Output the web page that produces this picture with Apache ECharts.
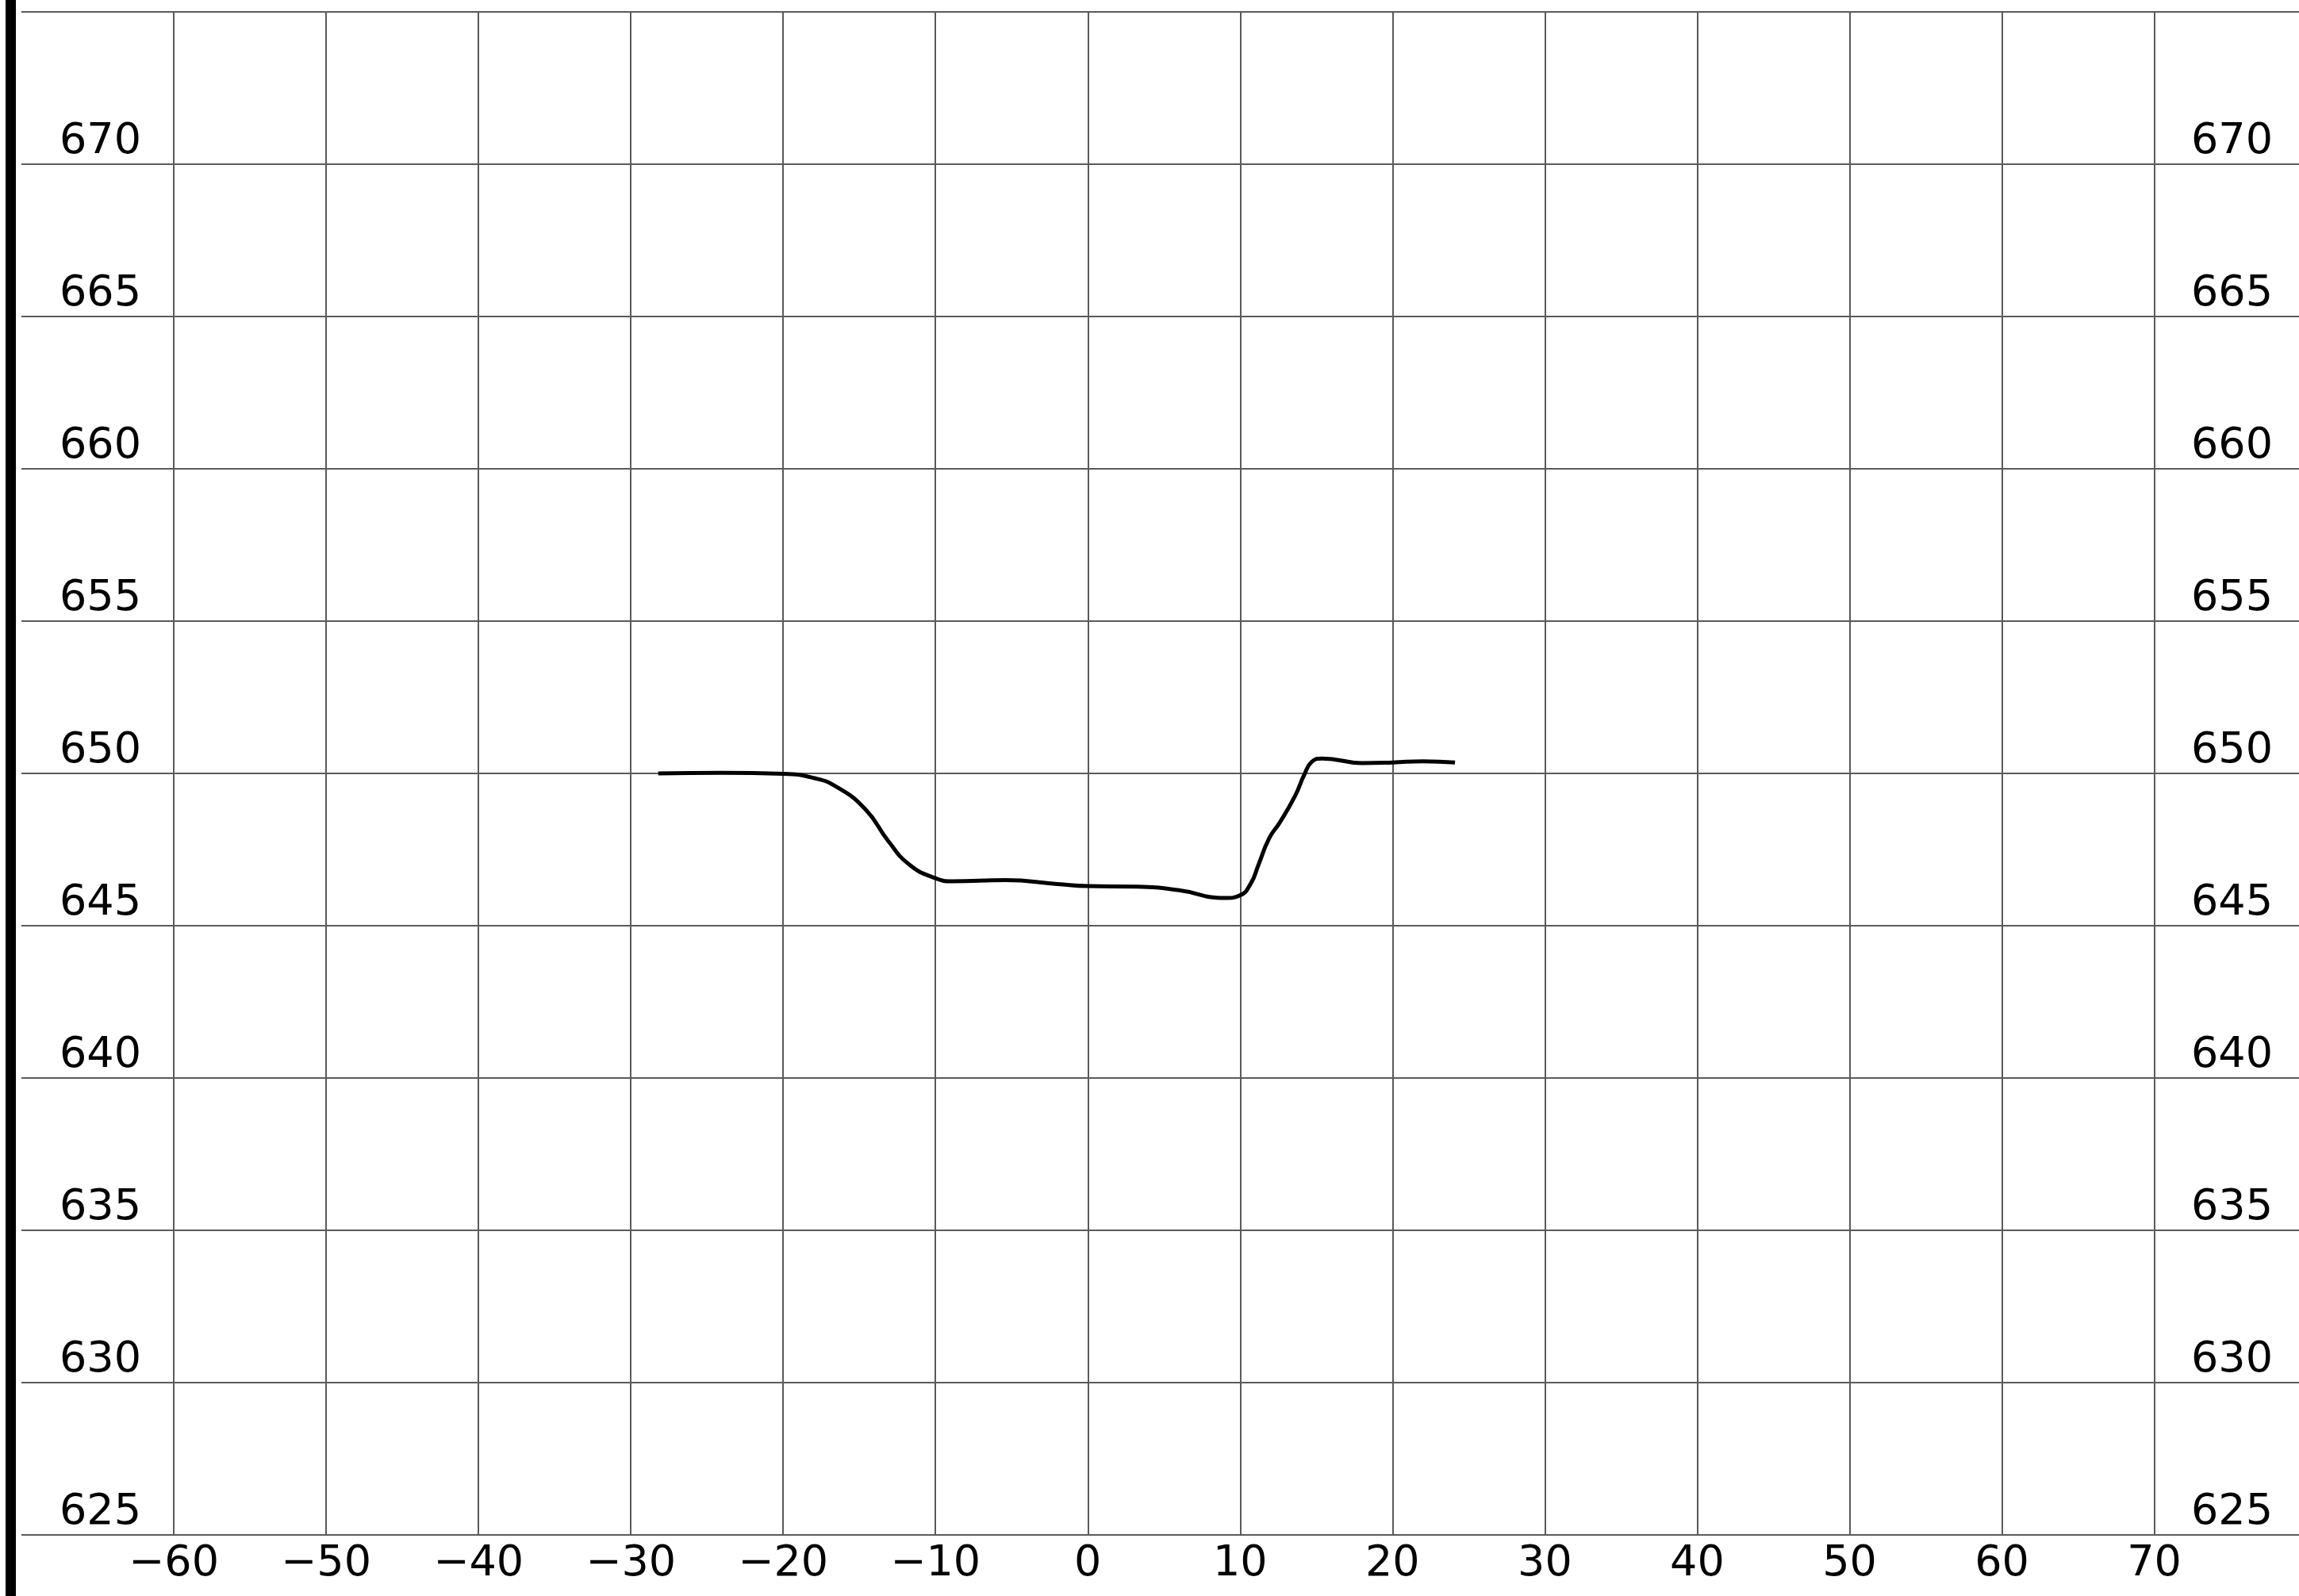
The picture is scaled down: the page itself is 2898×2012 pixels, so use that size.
<!DOCTYPE html>
<html>
<head>
<meta charset="utf-8">
<title>Profile</title>
<script src="https://cdn.jsdelivr.net/npm/echarts@6/dist/echarts.min.js"></script>
<style>
	html, body { margin: 0; padding: 0; background: #fff; }
	#chart { width: 2898px; height: 2012px; }
</style>
</head>
<body>
<div id="chart"></div>
<script>
// profile
var stations = [-28.2, -24, -20, -18, -16.5, -14.6, -13.1, -11.7, -10, -8.9, -5.4, -2, 0, 3.2, 5.9, 9, 10, 10.7, 11.2, 11.9, 12.6, 13.6, 14.2, 14.7, 15.4, 18, 20, 22, 24.1];
var levels = [650.0, 650.02, 649.99, 649.85, 649.56, 648.82, 647.78, 647.0, 646.56, 646.46, 646.5, 646.37, 646.3, 646.28, 646.17, 645.91, 646.0, 646.39, 647.0, 647.87, 648.39, 649.26, 649.95, 650.38, 650.49, 650.34, 650.36, 650.4, 650.36];

var xRange = [-70, 79.5];
var yRange = [625, 675];

var ele = document.getElementById('chart');
var myChart = echarts.init(ele);

var points = [];
for (var i = 0; i < stations.length; i++) {
	points.push([stations[i], levels[i]]);
}

var gridLine = { show: true, lineStyle: { color: '#5a5a5a', width: 2 } };
var labelFont = 'DejaVu Sans';

function minus(v) {
	return String(v).replace('-', '\u2212');
}

var option = {
	backgroundColor: '#fff',
	animation: false,
	grid: { left: 27, right: 0, top: 15, bottom: 77, containLabel: false },
	xAxis: {
		type: 'value',
		min: xRange[0],
		max: xRange[1],
		interval: 10,
		axisLine: { show: false },
		axisTick: { show: false },
		splitLine: { show: true, showMinLine: false, showMaxLine: false, lineStyle: gridLine.lineStyle },
		axisLabel: {
			showMinLabel: false,
			showMaxLabel: false,
			margin: 10,
			color: '#000',
			fontFamily: labelFont,
			fontSize: 54,
			lineHeight: 54,
			formatter: minus
		}
	},
	yAxis: [{
		type: 'value',
		position: 'left',
		min: yRange[0],
		max: yRange[1],
		interval: 5,
		axisLine: { show: false },
		axisTick: { show: false },
		splitLine: gridLine,
		axisLabel: {
			inside: true,
			showMaxLabel: false,
			margin: 48,
			verticalAlign: 'bottom',
			lineHeight: 56,
			color: '#000',
			fontFamily: labelFont,
			fontSize: 54
		}
	}, {
		type: 'value',
		position: 'right',
		min: yRange[0],
		max: yRange[1],
		interval: 5,
		axisLine: { show: false },
		axisTick: { show: false },
		splitLine: { show: false },
		axisLabel: {
			inside: true,
			showMaxLabel: false,
			margin: 33,
			verticalAlign: 'bottom',
			lineHeight: 56,
			color: '#000',
			fontFamily: labelFont,
			fontSize: 54
		}
	}],
	graphic: [{
		type: 'rect',
		left: 7,
		top: 0,
		shape: { width: 13, height: 2012 },
		style: { fill: '#000' }
	}],
	series: [{
		type: 'line',
		data: points,
		smooth: 0.5,
		showSymbol: false,
		symbol: 'none',
		lineStyle: { color: '#000', width: 5 }
	}]
};
myChart.setOption(option);
</script>
</body>
</html>
